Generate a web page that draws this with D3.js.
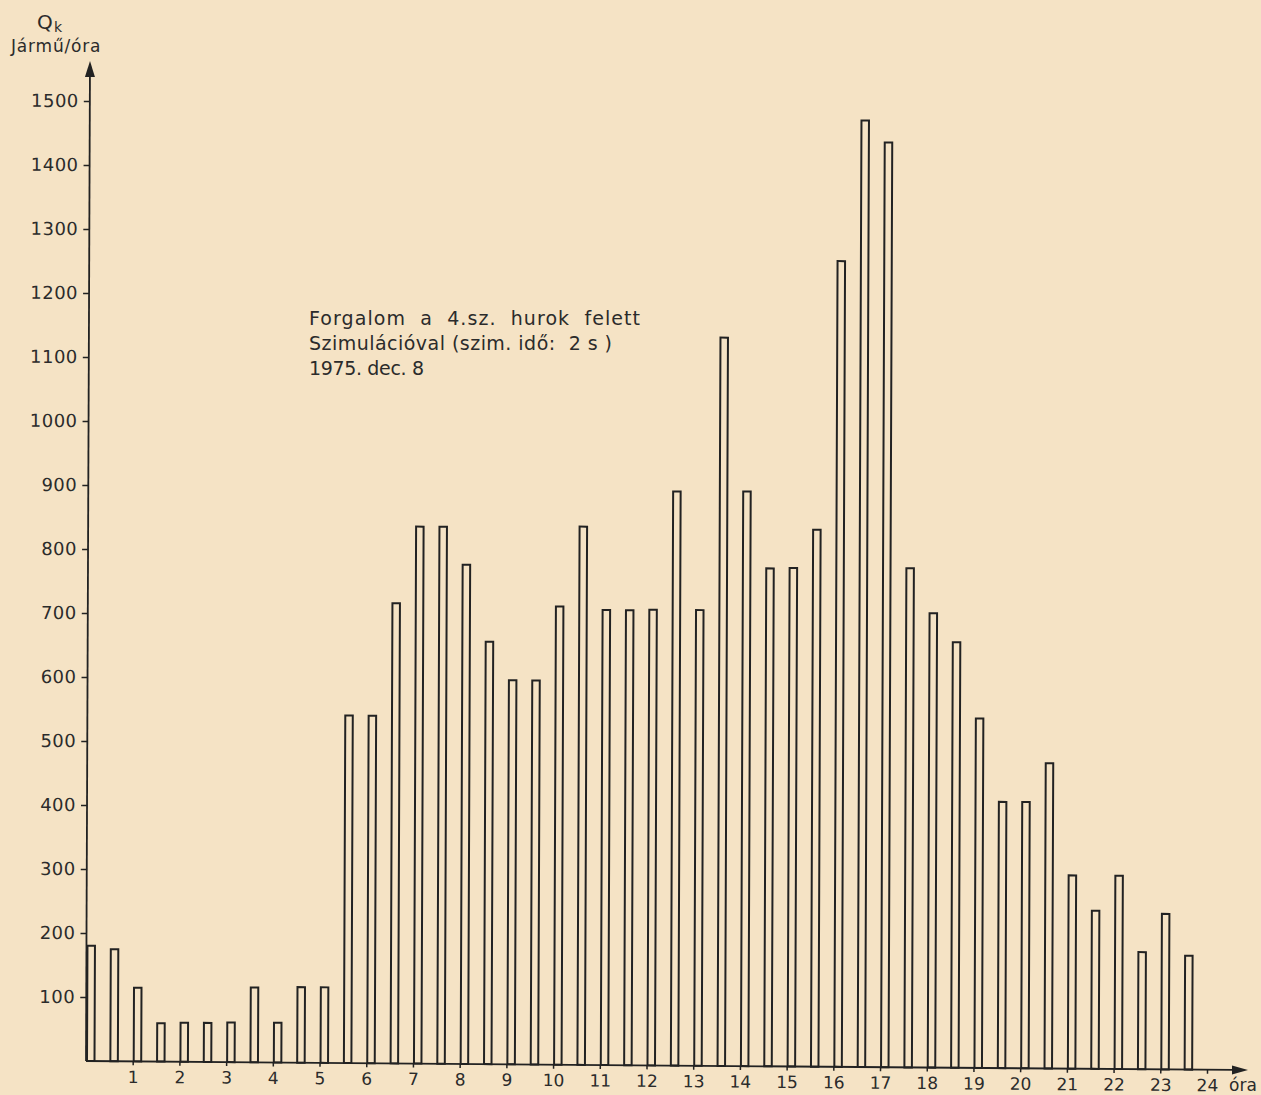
<!DOCTYPE html>
<html>
<head>
<meta charset="utf-8">
<script src="https://cdn.jsdelivr.net/npm/d3@7"></script>
<style>
  html, body { margin: 0; padding: 0; background: #f5e3c5; }
  svg { display: block; }
  text { font-family: "DejaVu Sans", sans-serif; fill: #2b2b2b; }
</style>
</head>
<body>
<div id="chart"></div>
<script>
// start of each half-hour interval (óra)
const starts = [0, 0.5, 1, 1.5, 2, 2.5, 3, 3.5, 4, 4.5, 5, 5.5,
                6, 6.5, 7, 7.5, 8, 8.5, 9, 9.5, 10, 10.5, 11, 11.5,
                12, 12.5, 13, 13.5, 14, 14.5, 15, 15.5, 16, 16.5, 17, 17.5,
                18, 18.5, 19, 19.5, 20, 20.5, 21, 21.5, 22, 22.5, 23, 23.5];

// Q_k, jármű/óra (read against the slanted base line)
const values = [180, 175, 115, 60, 61, 61, 62, 117, 62, 118, 118, 543,
                543, 719, 839, 839, 780, 660, 600, 600, 716, 841, 711, 711,
                712, 897, 712, 1138, 898, 778, 779, 839, 1259, 1479, 1445, 780,
                710, 665, 546, 416, 416, 477, 302, 247, 302, 183, 243, 178];

const yTicks = [100, 200, 300, 400, 500, 600, 700, 800, 900, 1000, 1100, 1200, 1300, 1400, 1500];
const xTicks = [1, 2, 3, 4, 5, 6, 7, 8, 9, 10, 11, 12, 13, 14, 15, 16, 17, 18, 19, 20, 21, 22, 23, 24];

const noteLines = ["Forgalom  a  4.sz.  hurok  felett",
                   "Szimulációval (szim. idő:  2 s )",
                   "1975. dec. 8"];
const noteWidths = [331, 303, 115];

const W = 1261, H = 1095;
const ink = "#222";

const svg = d3.select("#chart")
    .append("svg")
    .attr("width", W)
    .attr("height", H);

// scales in local coords, origin at the axes corner
const x = d3.scaleLinear().domain([0, 24]).range([0, 1121]);
const y = d3.scaleLinear().domain([0, 1500]).range([0, -960]);

// the scanned sheet is a bit skewed
const g = svg.append("g")
    .attr("transform", "translate(86,1061) matrix(1,0.0078,-0.004,1,0,0)");

// bars (outlined only)
g.selectAll(".bar")
    .data(values)
    .enter()
    .append("rect")
    .attr("class", "bar")
    .attr("x", (d, i) => x(starts[i]) + 1)
    .attr("y", d => y(d))
    .attr("width", 7.5)
    .attr("height", d => -y(d))
    .attr("fill", "none")
    .attr("stroke", ink)
    .attr("stroke-width", 2);

// y axis
const yAxis = d3.axisLeft(y)
    .tickValues(yTicks)
    .tickSize(6)
    .tickPadding(5)
    .tickFormat(d => d);

g.append("g")
    .call(yAxis)
    .call(a => a.select(".domain").remove())
    .call(a => a.selectAll("line").attr("stroke", ink).attr("stroke-width", 1.5))
    .call(a => a.selectAll("text")
        .attr("font-size", 18)
        .attr("font-family", "DejaVu Sans")
        .attr("letter-spacing", 0.5));

// x axis
const xAxis = d3.axisBottom(x)
    .tickValues(xTicks)
    .tickSize(4)
    .tickPadding(5.5)
    .tickFormat(d => d);

g.append("g")
    .call(xAxis)
    .call(a => a.select(".domain").remove())
    .call(a => a.selectAll("line").attr("stroke", ink).attr("stroke-width", 1.5))
    .call(a => a.selectAll("text")
        .attr("font-size", 17)
        .attr("font-family", "DejaVu Sans"));

// axis lines with arrow heads
g.append("line")
    .attr("x1", 0).attr("y1", 0)
    .attr("x2", 0).attr("y2", -986)
    .attr("stroke", ink).attr("stroke-width", 1.8);
g.append("path")
    .attr("d", "M0,-1000 L-5,-984 L5,-984 Z")
    .attr("fill", ink);

g.append("line")
    .attr("x1", 0).attr("y1", 0)
    .attr("x2", 1148).attr("y2", 0)
    .attr("stroke", ink).attr("stroke-width", 1.8);
g.append("path")
    .attr("d", "M1162,0 L1146,-4.5 L1146,4.5 Z")
    .attr("fill", ink);

// axis titles
svg.append("text")
    .attr("x", 37).attr("y", 29)
    .attr("font-size", 20)
    .text("Q");
svg.append("text")
    .attr("x", 54).attr("y", 32)
    .attr("font-size", 14)
    .text("k");
svg.append("text")
    .attr("x", 11).attr("y", 52)
    .attr("font-size", 17)
    .attr("letter-spacing", 0.8)
    .text("Jármű/óra");
svg.append("text")
    .attr("x", 1229).attr("y", 1091)
    .attr("font-size", 17)
    .text("óra");

// note
svg.append("g")
    .selectAll("text")
    .data(noteLines)
    .enter()
    .append("text")
    .attr("x", 309)
    .attr("y", (d, i) => 325 + i * 25)
    .attr("font-size", 19)
    .attr("textLength", (d, i) => noteWidths[i])
    .attr("lengthAdjust", "spacing")
    .style("white-space", "pre")
    .text(d => d);
</script>
</body>
</html>
